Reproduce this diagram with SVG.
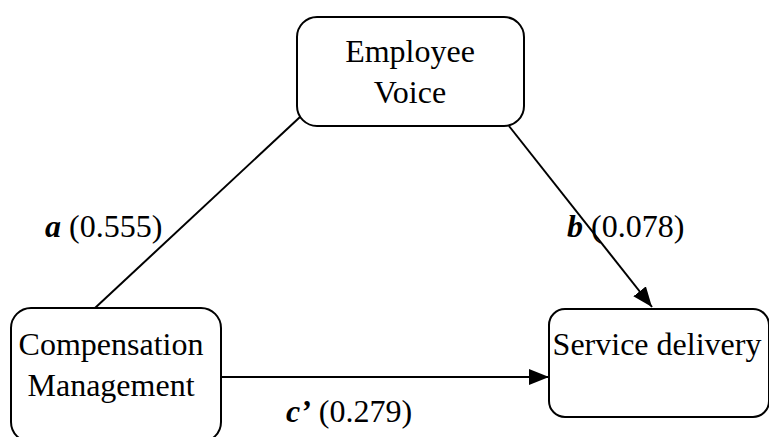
<svg xmlns="http://www.w3.org/2000/svg" width="769" height="437" viewBox="0 0 769 437">
<defs>
<style>
.box{fill:#fff;stroke:#000;stroke-width:2}
.t{font-family:'Liberation Serif',Tinos,'Times New Roman','DejaVu Serif',serif;font-size:32px;fill:#000}
.bi{font-weight:bold;font-style:italic}
.ln{stroke:#000;stroke-width:2;fill:none}
</style>
<marker id="ah" viewBox="0 0 20 16" refX="20" refY="8" markerWidth="20" markerHeight="16" markerUnits="userSpaceOnUse" orient="auto">
<path d="M0,0 L20,8 L0,16 z" fill="#000"/>
</marker>
</defs>
<rect width="769" height="437" fill="#fff"/>
<g id="connectors">
<line class="ln" x1="300" y1="117" x2="95" y2="308"/>
<line class="ln" x1="509" y1="126" x2="652" y2="307" marker-end="url(#ah)"/>
<line class="ln" x1="221" y1="377" x2="549" y2="377" marker-end="url(#ah)"/>
<text class="t" x="45" y="237"><tspan class="bi">a</tspan> (0.555)</text>
<text class="t" x="567" y="237"><tspan class="bi">b</tspan> (0.078)</text>
<text class="t" x="286" y="422"><tspan class="bi">c’</tspan> (0.279)</text>
</g>
<g id="employee-voice">
<rect class="box" x="297" y="17" width="227" height="109" rx="20"/>
<text class="t" x="410" y="62" text-anchor="middle">Employee</text>
<text class="t" x="410" y="103" text-anchor="middle">Voice</text>
</g>
<g id="compensation-management">
<rect class="box" x="11" y="308" width="210" height="134" rx="20"/>
<text class="t" x="111" y="355" text-anchor="middle">Compensation</text>
<text class="t" x="111" y="396" text-anchor="middle">Management</text>
</g>
<g id="service-delivery">
<rect class="box" x="549" y="309" width="220" height="108" rx="16"/>
<text class="t" x="657" y="355" text-anchor="middle">Service delivery</text>
</g>
</svg>
